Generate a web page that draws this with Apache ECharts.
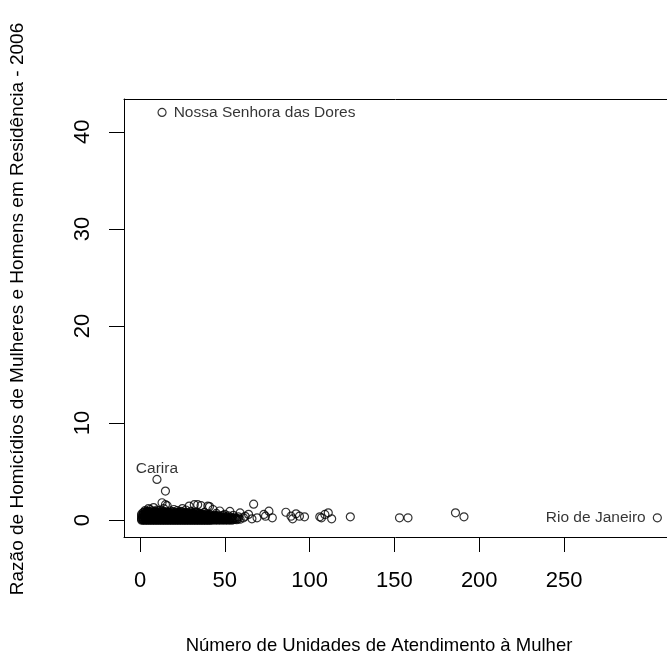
<!DOCTYPE html>
<html>
<head>
<meta charset="utf-8">
<title>Razão de Homicídios x Unidades de Atendimento</title>
<script src="https://cdn.jsdelivr.net/npm/echarts@6/dist/echarts.min.js"></script>
<style>
  html, body { margin: 0; padding: 0; background: #fff; }
  #chart { width: 667px; height: 660px; }
</style>
</head>
<body>
<div id="chart"></div>
<script>
// eixo x: número de unidades, eixo y: razão mulheres/homens
const xTicks = [0, 50, 100, 150, 200, 250];
const yTicks = [0, 10, 20, 30, 40];

// massa densa perto da origem: cada x com as razões
const clusterX = [1, 2, 3, 4, 5, 6, 7, 8, 9, 10,
  11, 12, 13, 14, 15, 16, 17, 18, 19, 20,
  21, 22, 23, 24, 25, 26, 27, 28, 29, 30,
  31, 32, 33, 34, 35, 36, 37, 38, 39, 40,
  41, 42, 43, 44, 45, 46, 47, 48, 49, 50,
  51, 52, 53, 54, 55, 56, 57, 58, 59, 61, 62, 64];
const clusterY = [
  [0, 0.1, 0.2, 0.35, 0.5, 0.65],
  [0, 0.05, 0.15, 0.3, 0.45, 0.6, 0.8],
  [0, 0.1, 0.2, 0.3, 0.4, 0.55, 0.7, 0.85, 1.0],
  [0, 0.05, 0.15, 0.25, 0.35, 0.5, 0.65, 0.8, 0.9],
  [0, 0.1, 0.2, 0.3, 0.45, 0.6, 0.75, 0.9, 1.2],
  [0, 0.05, 0.15, 0.25, 0.35, 0.45, 0.55, 0.75, 0.85, 1.1],
  [0, 0.1, 0.2, 0.3, 0.4, 0.5, 0.6, 0.7, 0.95],
  [0, 0.05, 0.1, 0.2, 0.3, 0.45, 0.6, 0.75, 0.85, 1.3],
  [0, 0.1, 0.2, 0.3, 0.4, 0.5, 0.65, 0.8, 0.9],
  [0, 0.05, 0.15, 0.25, 0.35, 0.45, 0.55, 0.7, 0.8, 1.05],
  [0, 0.1, 0.2, 0.3, 0.4, 0.5, 0.6, 0.7, 0.85, 1.0],
  [0, 0.05, 0.1, 0.2, 0.3, 0.4, 0.5, 0.6, 0.75, 0.85],
  [0, 0.1, 0.2, 0.3, 0.45, 0.55, 0.65, 0.75, 1.8],
  [0, 0.05, 0.15, 0.25, 0.35, 0.5, 0.6, 0.75, 0.9, 1.2],
  [0, 0.1, 0.2, 0.3, 0.4, 0.5, 0.6, 0.7, 0.85, 1.6],
  [0, 0.05, 0.15, 0.25, 0.4, 0.5, 0.65, 0.8, 1.5],
  [0, 0.1, 0.2, 0.3, 0.45, 0.55, 0.7, 0.8],
  [0, 0.05, 0.1, 0.2, 0.35, 0.45, 0.6, 0.75, 0.95],
  [0, 0.1, 0.2, 0.3, 0.4, 0.5, 0.6, 0.7, 0.85],
  [0, 0.05, 0.15, 0.3, 0.4, 0.55, 0.7, 0.85, 1.1],
  [0, 0.1, 0.2, 0.3, 0.4, 0.5, 0.65, 0.75],
  [0, 0.05, 0.15, 0.25, 0.4, 0.5, 0.65, 0.8, 1.0],
  [0, 0.1, 0.2, 0.3, 0.45, 0.55, 0.7, 0.8],
  [0, 0.05, 0.1, 0.2, 0.35, 0.45, 0.6, 0.75, 0.9],
  [0, 0.1, 0.2, 0.3, 0.45, 0.55, 0.7, 0.85, 1.2],
  [0, 0.05, 0.15, 0.25, 0.4, 0.5, 0.65, 0.75],
  [0, 0.1, 0.2, 0.3, 0.4, 0.5, 0.65, 0.8, 1.05],
  [0, 0.05, 0.15, 0.25, 0.35, 0.45, 0.6, 0.7],
  [0, 0.1, 0.2, 0.3, 0.45, 0.55, 0.75, 1.45],
  [0, 0.05, 0.15, 0.25, 0.4, 0.5, 0.6, 0.75, 0.9],
  [0, 0.1, 0.2, 0.3, 0.4, 0.5, 0.6, 0.7],
  [0, 0.05, 0.15, 0.25, 0.35, 0.5, 0.65, 1.6],
  [0, 0.1, 0.2, 0.3, 0.45, 0.55, 0.7, 0.8],
  [0, 0.05, 0.15, 0.3, 0.4, 0.55, 0.65, 1.6],
  [0, 0.1, 0.2, 0.3, 0.4, 0.55, 0.7],
  [0, 0.05, 0.15, 0.25, 0.35, 0.5, 0.6, 1.5],
  [0, 0.1, 0.2, 0.35, 0.45, 0.6],
  [0, 0.05, 0.15, 0.25, 0.35, 0.45, 0.6, 0.8],
  [0, 0.1, 0.2, 0.3, 0.45, 0.55],
  [0, 0.05, 0.15, 0.25, 0.4, 0.5, 1.45],
  [0, 0.1, 0.2, 0.3, 0.45, 0.6, 1.4],
  [0, 0.05, 0.15, 0.25, 0.35, 0.5],
  [0.05, 0.15, 0.3, 0.4, 1.1],
  [0, 0.1, 0.2, 0.35, 0.5],
  [0.05, 0.1, 0.25, 0.35, 0.5, 0.7],
  [0, 0.15, 0.25, 0.4],
  [0.05, 0.15, 0.3, 0.45, 0.95],
  [0, 0.1, 0.2, 0.3],
  [0.05, 0.15, 0.3, 0.5],
  [0, 0.1, 0.2, 0.35, 0.6],
  [0.05, 0.15, 0.35],
  [0, 0.1, 0.25, 0.45],
  [0.05, 0.15, 0.9],
  [0, 0.15, 0.3],
  [0.05, 0.2, 0.5],
  [0.1, 0.25],
  [0.05, 0.2],
  [0.15, 0.35],
  [0.1, 0.75],
  [0.25],
  [0.4],
  [0.6]
];

// pontos soltos à direita
const sparseX = [66, 67, 69, 73, 74, 76, 78, 86, 89, 90, 92, 94, 97, 106, 107, 109, 111, 113, 124, 153, 158, 186, 191];
const sparseY = [0.14, 1.65, 0.25, 0.59, 0.41, 0.93, 0.25, 0.82, 0.41, 0.14, 0.66, 0.41, 0.35, 0.35, 0.25, 0.59, 0.76, 0.14, 0.35, 0.25, 0.25, 0.76, 0.35];

// municípios identificados
const namedCities = ['Nossa Senhora das Dores', 'Carira', 'Rio de Janeiro'];
const namedX = [13, 10, 305];
const namedY = [42, 4.2, 0.25];
const otherHigh = [[15, 3.0]];

const myChart = echarts.init(document.getElementById('chart'));

let pts = [];
clusterX.forEach((x, i) => {
  clusterY[i].forEach((y) => pts.push([x, y]));
});
sparseX.forEach((x, i) => pts.push([x, sparseY[i]]));
otherHigh.forEach((p) => pts.push(p));

const labelPos = ['right', 'top', 'left'];
const labelDist = [7, -2, 7];
const namedData = namedCities.map((name, i) => ({
  name: name,
  value: [namedX[i], namedY[i]],
  label: { show: true, position: labelPos[i], distance: labelDist[i], formatter: name }
}));

const fontFam = 'Liberation Sans, Arial, sans-serif';
const pointStyle = { color: 'rgba(0,0,0,0)', borderColor: '#000', borderWidth: 1.2 };
const blackLine = { color: '#000', width: 1 };

let option = {
  animation: false,
  backgroundColor: '#fff',
  textStyle: { fontFamily: fontFam },
  // caixa aberta à direita (a figura original está cortada)
  grid: { left: 124, top: 99, right: 0, bottom: 123, show: false },
  xAxis: [
    {
      type: 'value',
      position: 'bottom',
      min: -9.43,
      max: 310.7,
      axisLine: { show: true, onZero: false, lineStyle: blackLine },
      splitLine: { show: false },
      axisTick: { show: true, inside: false, length: 15, customValues: xTicks, lineStyle: blackLine },
      axisLabel: { customValues: xTicks, fontSize: 22, color: '#000', margin: 33, fontFamily: fontFam }
    },
    {
      type: 'value',
      position: 'top',
      min: -9.43,
      max: 310.7,
      axisLine: { show: true, onZero: false, lineStyle: blackLine },
      splitLine: { show: false },
      axisTick: { show: false },
      axisLabel: { show: false }
    }
  ],
  yAxis: {
    type: 'value',
    min: -1.73,
    max: 43.38,
    axisLine: { show: true, onZero: false, lineStyle: blackLine },
    splitLine: { show: false },
    axisTick: { show: true, inside: false, length: 15, customValues: yTicks, lineStyle: blackLine },
    axisLabel: { customValues: yTicks, fontSize: 22, color: '#000', margin: 30, rotate: 90, fontFamily: fontFam }
  },
  graphic: [
    {
      type: 'text', x: 379, y: 646,
      style: { text: 'Número de Unidades de Atendimento à Mulher', fontSize: 18.5, fontFamily: fontFam,
        fill: '#000', textAlign: 'center', textVerticalAlign: 'middle' }
    },
    {
      type: 'text', x: 18, y: 309, rotation: Math.PI / 2,
      style: { text: 'Razão de Homicídios de Mulheres e Homens em Residência - 2006', fontSize: 19,
        fontFamily: fontFam, fill: '#000', textAlign: 'center', textVerticalAlign: 'middle' }
    }
  ],
  series: [
    {
      type: 'scatter',
      symbol: 'circle',
      symbolSize: 8,
      silent: true,
      itemStyle: pointStyle,
      data: pts
    },
    {
      type: 'scatter',
      symbol: 'circle',
      symbolSize: 8,
      silent: true,
      itemStyle: pointStyle,
      label: { color: '#000', fontSize: 15.5, fontFamily: fontFam },
      data: namedData
    }
  ]
};
myChart.setOption(option);
</script>
</body>
</html>
